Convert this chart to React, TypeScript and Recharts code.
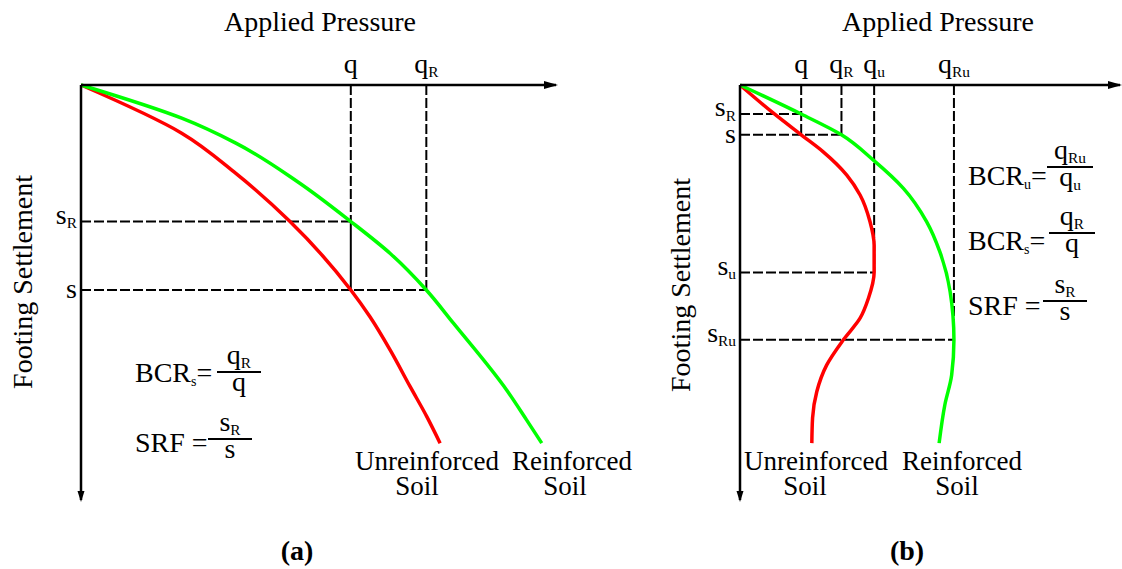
import { LineChart, Line, XAxis, YAxis, ReferenceLine, ReferenceDot } from 'recharts'

const SERIF = '"Liberation Serif", "Times New Roman", serif'
const RED = '#ff0000'
const GREEN = '#00ff00'
const INK = '#000'

// (a) both axes run 0-100; pressure right, settlement down
const qA = 56.8
const qRA = 72.7
const sRA = 32.9
const sA = 49.4

const unreinforcedA = [
  { x: 0, y: 0 },
  { x: 21.2, y: 11.6 },
  { x: 32.6, y: 21.3 },
  { x: 44.0, y: 32.9 },
  { x: 56.8, y: 49.4 },
  { x: 60.8, y: 55.8 },
  { x: 65.1, y: 63.9 },
  { x: 69.3, y: 72.7 },
  { x: 72.8, y: 79.9 },
  { x: 75.6, y: 86.3 },
]

const reinforcedA = [
  { x: 0, y: 0 },
  { x: 21.2, y: 8.0 },
  { x: 32.6, y: 14.0 },
  { x: 45.6, y: 23.3 },
  { x: 56.8, y: 32.9 },
  { x: 65.1, y: 40.6 },
  { x: 72.7, y: 49.4 },
  { x: 78.4, y: 57.4 },
  { x: 89.6, y: 73.5 },
  { x: 93.8, y: 80.7 },
  { x: 97.0, y: 86.3 },
]

const pressureTicksA = [
  { value: qA, base: 'q', sub: '' },
  { value: qRA, base: 'q', sub: 'R' },
]
const settlementTicksA = [
  { value: sRA, base: 's', sub: 'R' },
  { value: sA, base: 's', sub: '' },
]

// (b) same axes, curves carried past their ultimate loads
const qB = 16.1
const qRB = 26.7
const quB = 35.3
const qRuB = 56.3
const sRB = 7.0
const sB = 12.0
const suB = 45.2
const sRuB = 61.4

const unreinforcedB = [
  { x: 0, y: 0 },
  { x: 8.8, y: 6.8 },
  { x: 16.1, y: 12.0 },
  { x: 21.9, y: 16.1 },
  { x: 28.1, y: 21.7 },
  { x: 31.6, y: 26.5 },
  { x: 34.2, y: 32.9 },
  { x: 35.3, y: 38.6 },
  { x: 35.3, y: 45.2 },
  { x: 33.8, y: 51.4 },
  { x: 31.6, y: 56.2 },
  { x: 27.2, y: 61.4 },
  { x: 22.8, y: 67.5 },
  { x: 20.2, y: 73.9 },
  { x: 19.1, y: 80.2 },
  { x: 18.9, y: 86.3 },
]

const reinforcedB = [
  { x: 0, y: 0 },
  { x: 16.1, y: 7.0 },
  { x: 26.7, y: 12.0 },
  { x: 35.1, y: 18.1 },
  { x: 43.0, y: 24.9 },
  { x: 49.1, y: 32.9 },
  { x: 52.6, y: 40.2 },
  { x: 55.3, y: 49.8 },
  { x: 56.3, y: 61.4 },
  { x: 55.7, y: 69.9 },
  { x: 53.9, y: 77.1 },
  { x: 52.4, y: 86.3 },
]

const pressureTicksB = [
  { value: qB, base: 'q', sub: '' },
  { value: qRB, base: 'q', sub: 'R' },
  { value: quB, base: 'q', sub: 'u' },
  { value: qRuB, base: 'q', sub: 'Ru' },
]
const settlementTicksB = [
  { value: sRB, base: 's', sub: 'R' },
  { value: sB, base: 's', sub: '' },
  { value: suB, base: 's', sub: 'u' },
  { value: sRuB, base: 's', sub: 'Ru' },
]

type TickLabel = { value: number; base: string; sub: string }

function Sym({
  x,
  y,
  base,
  sub,
  anchor = 'middle',
  size = 28,
}: {
  x: number
  y: number
  base: string
  sub: string
  anchor?: 'start' | 'middle' | 'end'
  size?: number
}) {
  return (
    <text x={x} y={y} textAnchor={anchor} fontFamily={SERIF} fontSize={size} fill={INK}>
      {base}
      {sub && (
        <tspan fontSize={size * 0.55} dy={size * 0.16}>
          {sub}
        </tspan>
      )}
    </text>
  )
}

function Fraction({
  cx,
  lineY,
  halfWidth,
  top,
  bottom,
}: {
  cx: number
  lineY: number
  halfWidth: number
  top: [string, string]
  bottom: [string, string]
}) {
  return (
    <g>
      <line x1={cx - halfWidth} x2={cx + halfWidth} y1={lineY} y2={lineY} stroke={INK} strokeWidth={2} />
      <Sym x={cx} y={lineY - 8} base={top[0]} sub={top[1]} />
      <Sym x={cx} y={lineY + 19} base={bottom[0]} sub={bottom[1]} />
    </g>
  )
}

const findTick = (ticks: TickLabel[], v: number) =>
  ticks.find((t) => Math.abs(t.value - v) < 1e-6) ?? { value: v, base: '', sub: '' }

const rightArrow = (p: any) => (
  <polygon points={`${p.cx + 2},${p.cy} ${p.cx - 12},${p.cy - 4} ${p.cx - 12},${p.cy + 4}`} fill={INK} />
)
const downArrow = (p: any) => (
  <polygon points={`${p.cx},${p.cy + 2} ${p.cx - 3.5},${p.cy - 9} ${p.cx + 3.5},${p.cy - 9}`} fill={INK} />
)

type Seg = { from: [number, number]; to: [number, number]; solid?: boolean }

const guidesA: Seg[] = [
  { from: [0, sRA], to: [qA, sRA] },
  { from: [0, sA], to: [qRA, sA] },
  { from: [qA, 0], to: [qA, sRA] },
  { from: [qA, sRA], to: [qA, sA], solid: true },
  { from: [qRA, 0], to: [qRA, sA] },
]

const guidesB: Seg[] = [
  { from: [0, sRB], to: [qB, sRB] },
  { from: [0, sB], to: [qRB, sB] },
  { from: [0, suB], to: [quB, suB] },
  { from: [0, sRuB], to: [qRuB, sRuB] },
  { from: [qB, 0], to: [qB, sB] },
  { from: [qRB, 0], to: [qRB, sB] },
  { from: [quB, 0], to: [quB, suB] },
  { from: [qRuB, 0], to: [qRuB, sRuB] },
]

// settlement grows steadily along every curve, so the chart is laid out
// vertically (settlement runs downward) and curves are smoothed along it
function SettlementPanel({
  width,
  left,
  right,
  pressureTicks,
  settlementTicks,
  guides,
  unreinforced,
  reinforced,
}: {
  width: number
  left: number
  right: number
  pressureTicks: TickLabel[]
  settlementTicks: TickLabel[]
  guides: Seg[]
  unreinforced: { x: number; y: number }[]
  reinforced: { x: number; y: number }[]
}) {
  return (
    <LineChart
      layout="vertical"
      width={width}
      height={569}
      margin={{ top: 55, right, bottom: 69, left: left - 40 }}
    >
      <XAxis
        type="number"
        orientation="top"
        domain={[0, 100]}
        height={30}
        ticks={pressureTicks.map((t) => t.value)}
        tickLine={false}
        tickSize={0}
        tickMargin={0}
        interval={0}
        axisLine={{ stroke: INK, strokeWidth: 2.5 }}
        tick={(p: any) => {
          const t = findTick(pressureTicks, p.payload.value)
          return <Sym x={p.x} y={p.y - 12} base={t.base} sub={t.sub} />
        }}
      />
      <YAxis
        dataKey="y"
        type="number"
        domain={[0, 100]}
        width={40}
        ticks={settlementTicks.map((t) => t.value)}
        tickLine={false}
        tickSize={0}
        tickMargin={0}
        interval={0}
        axisLine={{ stroke: INK, strokeWidth: 2.5 }}
        tick={(p: any) => {
          const t = findTick(settlementTicks, p.payload.value)
          return <Sym x={p.x - 4} y={p.y + (t.sub ? 2 : 8)} base={t.base} sub={t.sub} anchor="end" />
        }}
      />
      {guides.map((g, i) => (
        <ReferenceLine
          key={i}
          segment={[
            { x: g.from[0], y: g.from[1] },
            { x: g.to[0], y: g.to[1] },
          ]}
          stroke={INK}
          strokeWidth={2}
          strokeDasharray={g.solid ? undefined : '10 3'}
        />
      ))}
      <Line
        data={unreinforced}
        dataKey="x"
        type="monotone"
        stroke={RED}
        strokeWidth={3.5}
        dot={false}
        isAnimationActive={false}
      />
      <Line
        data={reinforced}
        dataKey="x"
        type="monotone"
        stroke={GREEN}
        strokeWidth={3.5}
        dot={false}
        isAnimationActive={false}
      />
      <ReferenceDot x={100} y={0} r={0} shape={rightArrow} />
      <ReferenceDot x={0} y={100} r={0} shape={downArrow} />
    </LineChart>
  )
}

function YTitle({ x, y }: { x: number; y: number }) {
  return (
    <text x={x} y={y} transform={`rotate(-90, ${x}, ${y})`} textAnchor="middle" fontFamily={SERIF} fontSize={28} fill={INK}>
      Footing Settlement
    </text>
  )
}

function Caption({ x, y, lines }: { x: number[]; y: number; lines: string[] }) {
  return (
    <g>
      {lines.map((l, i) => (
        <text key={l} x={x[i]} y={y + i * 25} textAnchor="middle" fontFamily={SERIF} fontSize={27} fill={INK}>
          {l}
        </text>
      ))}
    </g>
  )
}

export default function App() {
  return (
    <div style={{ position: 'fixed', left: 0, top: 0, width: 1122, height: 569, background: '#fff' }}>
      <div style={{ position: 'absolute', left: 0, top: 0 }}>
        <SettlementPanel
          width={570}
          left={81}
          right={14}
          pressureTicks={pressureTicksA}
          settlementTicks={settlementTicksA}
          guides={guidesA}
          unreinforced={unreinforcedA}
          reinforced={reinforcedA}
        />
      </div>
      <div style={{ position: 'absolute', left: 660, top: 0 }}>
        <SettlementPanel
          width={462}
          left={80}
          right={2}
          pressureTicks={pressureTicksB}
          settlementTicks={settlementTicksB}
          guides={guidesB}
          unreinforced={unreinforcedB}
          reinforced={reinforcedB}
        />
      </div>
      <svg width={1122} height={569} style={{ position: 'absolute', left: 0, top: 0, pointerEvents: 'none' }}>
        <g fontFamily={SERIF} fontSize={28} fill={INK}>
          <text x={320} y={31} textAnchor="middle">Applied Pressure</text>
          <text x={938} y={31} textAnchor="middle">Applied Pressure</text>
        </g>
        <YTitle x={32} y={282} />
        <YTitle x={690} y={285} />

        {/* (a) ratios */}
        <text x={135} y={382} fontFamily={SERIF} fontSize={28} fill={INK}>
          BCR<tspan fontSize={14} dy={4}>s</tspan>
          <tspan dy={-4}>=</tspan>
        </text>
        <Fraction cx={239} lineY={372} halfWidth={22} top={['q', 'R']} bottom={['q', '']} />
        <text x={135} y={452} fontFamily={SERIF} fontSize={28} fill={INK}>
          SRF =
        </text>
        <Fraction cx={230} lineY={439} halfWidth={22} top={['s', 'R']} bottom={['s', '']} />

        {/* (b) ratios */}
        <text x={968} y={185} fontFamily={SERIF} fontSize={28} fill={INK}>
          BCR<tspan fontSize={14} dy={4}>u</tspan>
          <tspan dy={-4}>=</tspan>
        </text>
        <Fraction cx={1070} lineY={167} halfWidth={23} top={['q', 'Ru']} bottom={['q', 'u']} />
        <text x={968} y={250} fontFamily={SERIF} fontSize={28} fill={INK}>
          BCR<tspan fontSize={14} dy={4}>s</tspan>
          <tspan dy={-4}>=</tspan>
        </text>
        <Fraction cx={1072} lineY={233} halfWidth={23} top={['q', 'R']} bottom={['q', '']} />
        <text x={968} y={315} fontFamily={SERIF} fontSize={28} fill={INK}>
          SRF =
        </text>
        <Fraction cx={1065} lineY={301} halfWidth={22} top={['s', 'R']} bottom={['s', '']} />

        <Caption x={[427, 417]} y={470} lines={['Unreinforced', 'Soil']} />
        <Caption x={[572, 565]} y={470} lines={['Reinforced', 'Soil']} />
        <Caption x={[816, 805]} y={470} lines={['Unreinforced', 'Soil']} />
        <Caption x={[962, 957]} y={470} lines={['Reinforced', 'Soil']} />

        <text x={297} y={560} textAnchor="middle" fontFamily={SERIF} fontSize={28} fontWeight="bold" fill={INK}>
          (a)
        </text>
        <text x={907} y={560} textAnchor="middle" fontFamily={SERIF} fontSize={28} fontWeight="bold" fill={INK}>
          (b)
        </text>
      </svg>
    </div>
  )
}
